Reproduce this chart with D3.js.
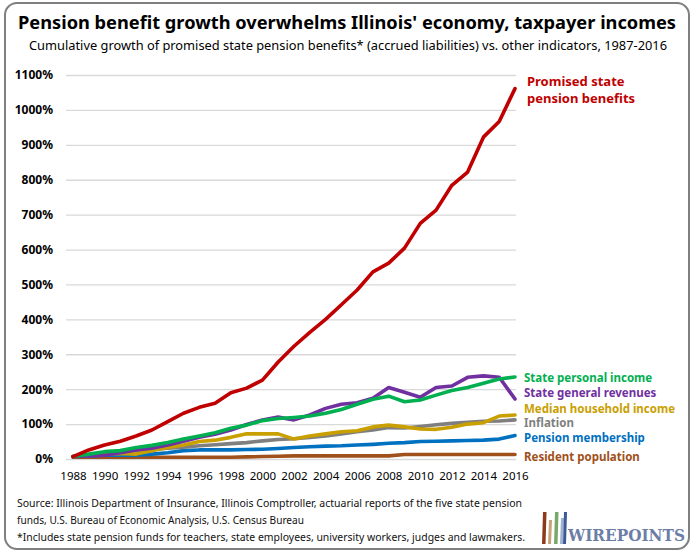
<!DOCTYPE html>
<html>
<head>
<meta charset="utf-8">
<script src="https://cdnjs.cloudflare.com/ajax/libs/d3/7.8.5/d3.min.js"></script>
<style>
  body { margin: 0; background: #fff; }
  svg { display: block; font-family: "Noto Sans", sans-serif; }
</style>
</head>
<body>
<svg id="chart" width="696" height="554"></svg>
<script>
// years on the x axis, one point per year
const years = d3.range(1988, 2017);
const yearTicks = d3.range(1988, 2017, 2);
const pctTicks = d3.range(0, 1101, 100);

// cumulative growth since 1987, in percent
const pensionBenefits = [7, 26, 40, 51, 66, 83, 107, 131, 148, 160, 190, 203, 226, 278, 323, 363, 400, 442, 484, 536, 561, 604, 675, 713, 784, 822, 922, 967, 1061];
const personalIncome = [7, 14, 21, 24, 33, 39, 47, 57, 66, 75, 88, 97, 110, 116, 119, 123, 131, 142, 157, 171, 180, 164, 169, 183, 196, 205, 217, 229, 235];
const generalRevenues = [7, 9, 11, 18, 26, 31, 40, 51, 62, 71, 83, 99, 112, 120, 112, 126, 145, 157, 161, 174, 205, 191, 177, 205, 209, 234, 238, 234, 172];
const householdIncome = [7, 11, 14, 16, 14, 24, 33, 40, 50, 54, 62, 72, 72, 72, 57, 66, 72, 78, 81, 92, 97, 92, 86, 85, 91, 100, 104, 123, 126];
const inflation = [7, 10, 15, 20, 24, 27, 31, 34, 38, 41, 44, 47, 52, 56, 58, 62, 66, 72, 78, 83, 90, 89, 93, 98, 102, 105, 108, 109, 112];
const membership = [7, 9, 11, 11, 11, 14, 18, 24, 26, 26, 26, 27, 28, 30, 33, 35, 37, 38, 40, 42, 45, 47, 50, 51, 52, 53, 54, 57, 67];
const population = [5, 5, 5, 5, 5, 5, 5, 5, 5, 5, 5, 6, 7, 8, 9, 9, 9, 9, 9, 9, 9, 13, 13, 13, 13, 13, 13, 13, 13];

const seriesNames = ["Promised state pension benefits", "State personal income", "State general revenues",
  "Median household income", "Inflation", "Pension membership", "Resident population"];
const seriesColors = ["#c00000", "#00b050", "#7030a0", "#c9a000", "#7f7f7f", "#0070c0", "#a0501a"];
const seriesValues = [pensionBenefits, personalIncome, generalRevenues, householdIncome, inflation, membership, population];

const svg = d3.select("#chart");

// outer rounded frame
svg.append("rect")
  .attr("x", 5).attr("y", 3).attr("width", 684).attr("height", 546)
  .attr("rx", 12)
  .attr("fill", "#fff").attr("stroke", "#7f7f7f").attr("stroke-width", 2);

svg.append("text")
  .attr("x", 347).attr("y", 29)
  .attr("text-anchor", "middle")
  .attr("font-size", 18.5).attr("font-weight", "bold")
  .attr("textLength", 658).attr("lengthAdjust", "spacingAndGlyphs")
  .text("Pension benefit growth overwhelms Illinois' economy, taxpayer incomes");

svg.append("text")
  .attr("x", 348).attr("y", 50)
  .attr("text-anchor", "middle")
  .attr("font-size", 13)
  .attr("textLength", 638).attr("lengthAdjust", "spacingAndGlyphs")
  .text("Cumulative growth of promised state pension benefits* (accrued liabilities) vs. other indicators, 1987-2016");

const x = d3.scaleLinear().domain([1988, 2016]).range([73, 515]);
const y = d3.scaleLinear().domain([0, 1100]).range([459, 75]);

// gridlines + y labels
const yAxis = svg.append("g")
  .attr("transform", "translate(66,0)")
  .call(d3.axisLeft(y).tickValues(pctTicks).tickSize(-450).tickFormat(d => d + "%").tickPadding(13));
yAxis.select(".domain").remove();
yAxis.selectAll(".tick line").attr("stroke", "#d9d9d9").attr("stroke-width", 1.3);
yAxis.selectAll(".tick text")
  .attr("font-family", "Noto Sans, sans-serif")
  .attr("font-size", 12).attr("font-weight", "bold").attr("fill", "#000");

const xAxis = svg.append("g")
  .attr("transform", "translate(0,472)")
  .call(d3.axisBottom(x).tickValues(yearTicks).tickFormat(d3.format("d")).tickSize(0).tickPadding(0));
xAxis.select(".domain").remove();
xAxis.selectAll(".tick text")
  .attr("font-family", "Noto Sans, sans-serif")
  .attr("font-size", 11.5).attr("fill", "#000");

const line = d3.line()
  .x((d, i) => x(years[i]))
  .y(d => y(d));

// draw the small series first so red sits on top
const order = [6, 5, 4, 3, 2, 1, 0];
order.forEach(k => {
  svg.append("path")
    .datum(seriesValues[k])
    .attr("d", line)
    .attr("fill", "none")
    .attr("stroke", seriesColors[k])
    .attr("stroke-width", 3.6)
    .attr("stroke-linejoin", "round")
    .attr("stroke-linecap", "round");
});

// red label in two lines
const redLabel = svg.append("text")
  .attr("x", 527).attr("y", 86)
  .attr("font-size", 13).attr("font-weight", "bold")
  .attr("fill", seriesColors[0]);
redLabel.append("tspan").attr("x", 527).text("Promised state");
redLabel.append("tspan").attr("x", 527).attr("dy", 17).text("pension benefits");

const labelY = [null, 382, 397, 413, 427, 442, 461];
for (let k = 1; k < seriesNames.length; k++) {
  svg.append("text")
    .attr("x", 524).attr("y", labelY[k])
    .attr("font-size", 11.5).attr("font-weight", "bold")
    .attr("fill", seriesColors[k])
    .text(seriesNames[k]);
}

// footer
const notes = [
  "Source: Illinois Department of Insurance, Illinois Comptroller, actuarial reports of the five state pension",
  "funds, U.S. Bureau of Economic Analysis, U.S. Census Bureau",
  "*Includes state pension funds for teachers, state employees, university workers, judges and lawmakers."
];
const noteLen = [505, 287, 508];
notes.forEach((t, i) => {
  svg.append("text")
    .attr("x", 17).attr("y", 507 + i * 17)
    .attr("font-size", 11)
    .attr("textLength", noteLen[i]).attr("lengthAdjust", "spacingAndGlyphs")
    .attr("fill", "#111")
    .text(t);
});

// wirepoints logo
const logo = svg.append("g").attr("transform", "translate(543,512)");
const bars = [
  { x: 0, h: 32, w: 3.5, c: "#8b3a1a" },
  { x: 6, h: 24, w: 3, c: "#c8a27a" },
  { x: 12, h: 32, w: 3.5, c: "#7aa86a" },
  { x: 18, h: 26, w: 3, c: "#9fb2cf" },
  { x: 21, h: 32, w: 3, c: "#3c5a94" }
];
bars.forEach(b => {
  logo.append("path")
    .attr("d", `M${b.x},${32 - b.h} l${b.w},0 l${-1},${b.h} l${-b.w},0 Z`)
    .attr("fill", b.c);
});
logo.append("text")
  .attr("x", 25).attr("y", 29)
  .attr("font-family", "DejaVu Serif, serif")
  .attr("font-size", 16).attr("font-weight", "bold")
  .attr("fill", "#6c7ea6")
  .attr("textLength", 117).attr("lengthAdjust", "spacingAndGlyphs")
  .text("WIREPOINTS");
</script>
</body>
</html>
